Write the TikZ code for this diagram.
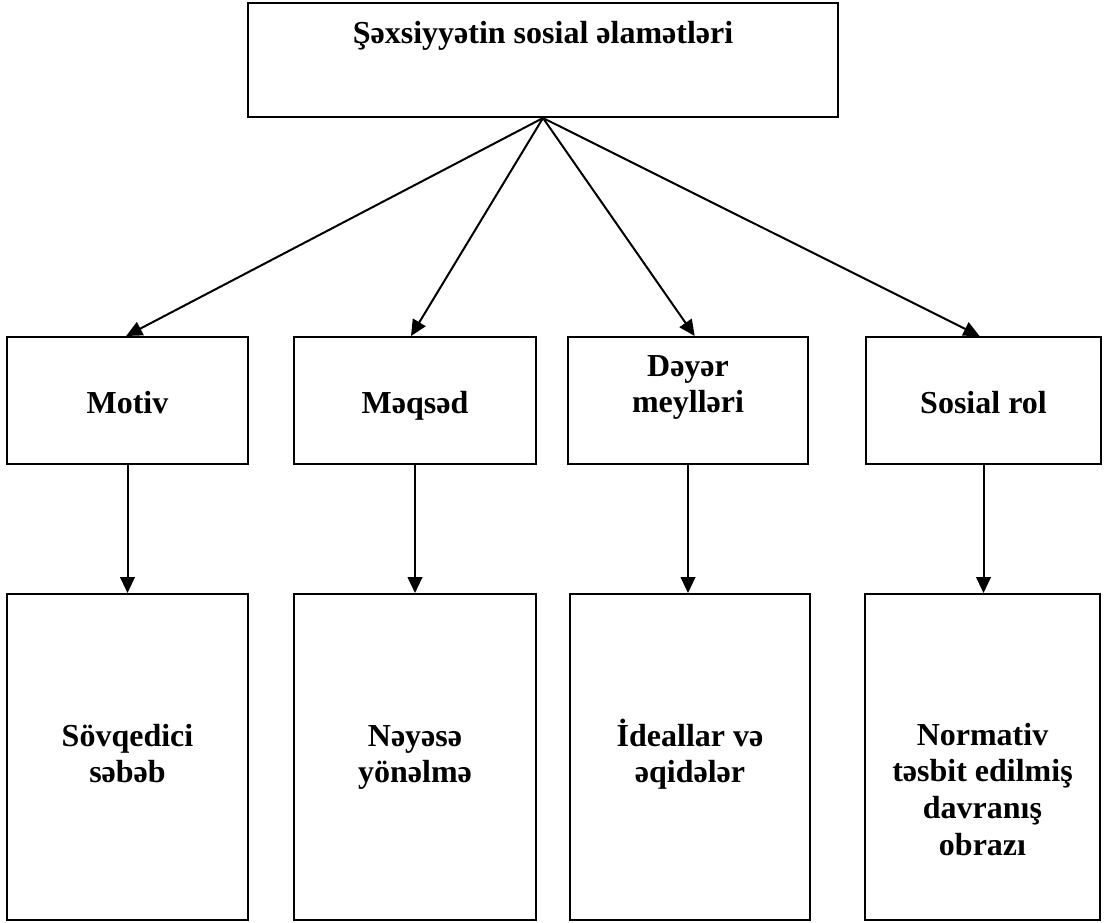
\documentclass[tikz,border=0pt]{standalone}
\usepackage{fontspec}
\setmainfont{Liberation Serif}
\usetikzlibrary{arrows.meta,fit}
\newcommand{\firststrut}{\rule{0pt}{22.5pt}}
\begin{document}
\begin{tikzpicture}[x=0.75pt,y=-0.75pt,
  box/.style={draw, line width=1.5pt, inner sep=0pt, fit={#1}},
  lbl/.style={inner sep=0pt, anchor=north, align=center, font=\fontsize{24}{27.5}\selectfont\bfseries},
  arr/.style={line width=1.5pt, -{Triangle[length=12pt,width=11pt]}}]
\fill[white] (0,0) rectangle (1105,922);
\useasboundingbox (0,0) rectangle (1105,922);
% boxes
\node[box={(248,3) (838,117)}] (top) {};
\node[box={(7,337) (248,464)}] (motiv) {};
\node[box={(294,337) (536,464)}] (meqsed) {};
\node[box={(568,337) (808,464)}] (deyer) {};
\node[box={(866,337) (1101,464)}] (rol) {};
\node[box={(7,594) (248,920)}] (sovq) {};
\node[box={(294,594) (536,920)}] (neyese) {};
\node[box={(570,594) (810,920)}] (ideal) {};
\node[box={(865,594) (1100,920)}] (norm) {};
% labels
\node[lbl] (ttop) at (543,13) {\firststrut Şəxsiyyətin sosial əlamətləri};
\node[lbl] (tmotiv) at (127.5,383) {\firststrut Motiv};
\node[lbl] (tmeqsed) at (415,383) {\firststrut Məqsəd};
\node[lbl] (tdeyer) at (688,346) {\firststrut Dəyər\\meylləri};
\node[lbl] (trol) at (983.5,383) {\firststrut Sosial rol};
\node[lbl] (tsovq) at (127.5,716) {\firststrut Sövqedici\\səbəb};
\node[lbl] (tneyese) at (415,716) {\firststrut Nəyəsə\\yönəlmə};
\node[lbl] (tideal) at (690,716) {\firststrut İdeallar və\\əqidələr};
\node[lbl] (tnorm) at (982.5,715) {\firststrut Normativ\\təsbit edilmiş\\davranış\\obrazı};
% connectors
\draw[arr] (top.south) -- ([xshift=-1pt]motiv.north);
\draw[arr] (top.south) -- ([xshift=-3pt]meqsed.north);
\draw[arr] (top.south) -- ([xshift=5pt]deyer.north);
\draw[arr] (top.south) -- ([xshift=-3pt]rol.north);
\draw[arr] (motiv.south) -- (motiv.south |- sovq.north);
\draw[arr] (meqsed.south) -- (meqsed.south |- neyese.north);
\draw[arr] (deyer.south) -- (deyer.south |- ideal.north);
\draw[arr] (rol.south) -- (rol.south |- norm.north);
\end{tikzpicture}
\end{document}
